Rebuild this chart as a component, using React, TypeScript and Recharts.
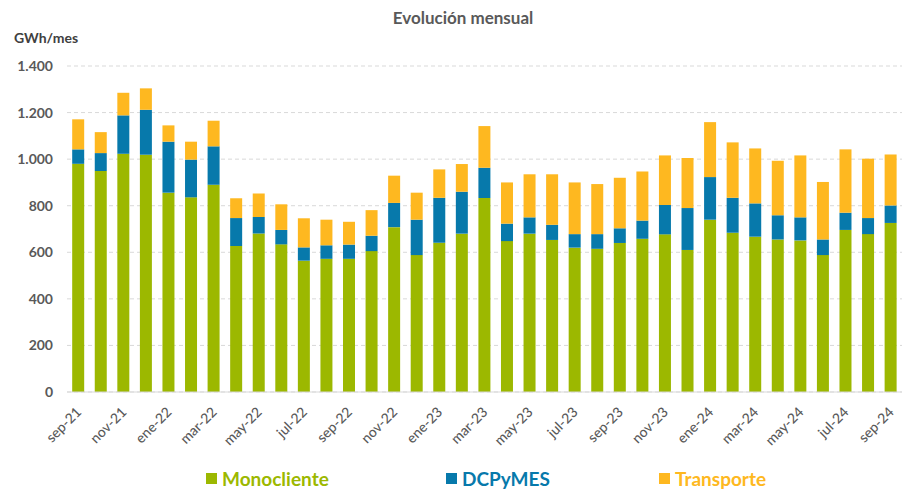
import { BarChart, Bar, XAxis, YAxis, CartesianGrid, Legend } from "recharts";

const months = [
  "sep-21", "oct-21", "nov-21", "dic-21", "ene-22", "feb-22", "mar-22", "abr-22", "may-22", "jun-22",
  "jul-22", "ago-22", "sep-22", "oct-22", "nov-22", "dic-22", "ene-23", "feb-23", "mar-23", "abr-23",
  "may-23", "jun-23", "jul-23", "ago-23", "sep-23", "oct-23", "nov-23", "dic-23", "ene-24", "feb-24",
  "mar-24", "abr-24", "may-24", "jun-24", "jul-24", "ago-24", "sep-24",
];

const monocliente = [
  980, 949, 1023, 1019, 856, 836, 890, 627, 681, 634,
  564, 572, 572, 605, 708, 588, 641, 680, 833, 648,
  680, 653, 620, 615, 640, 658, 677, 610, 740, 684,
  667, 655, 651, 588, 696, 678, 726,
];

const dcpymes = [
  62, 77, 165, 193, 219, 162, 165, 120, 70, 62,
  57, 58, 61, 66, 104, 152, 193, 180, 130, 75,
  70, 65, 58, 63, 63, 78, 126, 180, 183, 150,
  143, 104, 99, 67, 74, 69, 75,
];

const transporte = [
  129, 90, 97, 92, 70, 77, 110, 85, 101, 110,
  125, 110, 98, 110, 117, 116, 122, 119, 179, 177,
  185, 217, 222, 215, 217, 211, 213, 215, 236, 238,
  236, 234, 266, 247, 272, 255, 219,
];

const yTicks = [0, 200, 400, 600, 800, 1000, 1200, 1400];

const GREEN = "#9cb800";
const BLUE = "#0779ab";
const ORANGE = "#feb820";
const FONT = "Lato, 'Open Sans', sans-serif";

const data = months.map((m, i) => ({
  mes: m,
  Monocliente: monocliente[i],
  DCPyMES: dcpymes[i],
  Transporte: transporte[i],
}));

const fmt = (v: number) =>
  v >= 1000 ? `${Math.floor(v / 1000)}.${String(v % 1000).padStart(3, "0")}` : String(v);

function MonthTick({ x, y, payload }: any) {
  const ax = x + 4;
  const ay = y + 13;
  return (
    <text
      x={ax}
      y={ay}
      transform={`rotate(-45, ${ax}, ${ay})`}
      textAnchor="end"
      fill="#595959"
      fontSize={14}
      fontWeight={500}
      fontFamily={FONT}
    >
      {payload.value}
    </text>
  );
}

const legendItems = [
  { name: "Monocliente", color: GREEN, left: 206 },
  { name: "DCPyMES", color: BLUE, left: 446 },
  { name: "Transporte", color: ORANGE, left: 659 },
];

function LegendBox() {
  return (
    <div style={{ position: "relative", width: 904, height: 28, fontFamily: FONT }}>
      {legendItems.map((it) => (
        <div
          key={it.name}
          style={{ position: "absolute", left: it.left, top: 0, height: 28, display: "flex", alignItems: "center" }}
        >
          <span style={{ width: 11, height: 11, background: it.color, marginRight: 5, display: "inline-block" }} />
          <span style={{ color: it.color, fontWeight: 700, fontSize: 19 }}>{it.name}</span>
        </div>
      ))}
    </div>
  );
}

export default function App() {
  return (
    <div style={{ position: "absolute", left: 0, top: 0, width: 904, height: 492, background: "#fff", fontFamily: FONT }}>
      <div style={{ position: "absolute", left: 0, width: 926, top: 7, textAlign: "center", fontSize: 17, fontWeight: 700, color: "#595959" }}>
        Evolución mensual
      </div>
      <div style={{ position: "absolute", left: 14, top: 29, fontSize: 14, fontWeight: 700, color: "#404040" }}>
        GWh/mes
      </div>
      <BarChart
        width={904}
        height={492}
        data={data}
        margin={{ top: 66, right: 2, bottom: 0, left: 0 }}
        barCategoryGap="23%"
      >
        <CartesianGrid vertical={false} stroke="#d9d9d9" strokeDasharray="4 3" />
        <XAxis
          dataKey="mes"
          interval={1}
          height={72}
          tickLine={false}
          axisLine={{ stroke: "#d9d9d9" }}
          tick={<MonthTick />}
        />
        <YAxis
          width={67}
          domain={[0, 1400]}
          ticks={yTicks}
          tickFormatter={fmt}
          axisLine={false}
          tickLine={false}
          tickMargin={8}
          tick={{ fill: "#595959", fontSize: 14, fontWeight: 700, fontFamily: FONT }}
        />
        <Legend
          verticalAlign="bottom"
          height={28}
          content={<LegendBox />}
          wrapperStyle={{ left: 0, width: 904, bottom: 0 }}
        />
        <Bar dataKey="Monocliente" stackId="a" fill={GREEN} isAnimationActive={false} />
        <Bar dataKey="DCPyMES" stackId="a" fill={BLUE} isAnimationActive={false} />
        <Bar dataKey="Transporte" stackId="a" fill={ORANGE} isAnimationActive={false} />
      </BarChart>
    </div>
  );
}
